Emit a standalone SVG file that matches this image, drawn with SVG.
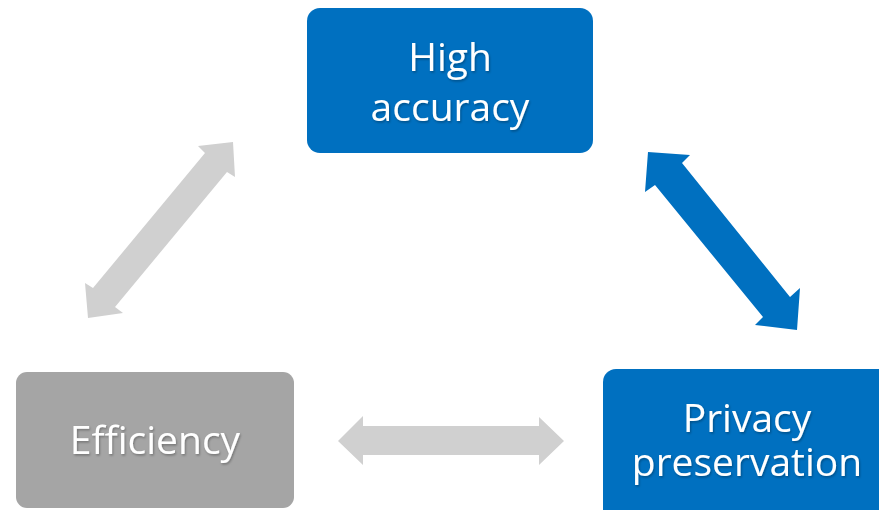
<svg xmlns="http://www.w3.org/2000/svg" width="879" height="510" viewBox="0 0 879 510">
<style>
.blue{fill:#0070C0}
.grey{fill:#A5A5A5}
.lbl{fill:#FFFFFF;font-family:"Segoe UI","Open Sans","Noto Sans",sans-serif;font-size:39px;text-anchor:middle;filter:url(#sh)}
.garrow{fill:#D0D0D0}
.barrow{fill:#0070C0}
</style>
<defs>
<filter id="sh" x="-10%" y="-20%" width="120%" height="140%">
<feDropShadow dx="1" dy="1.5" stdDeviation="1" flood-color="#000" flood-opacity="0.3"/>
</filter>
</defs>
<g id="connectors">
<polygon class="barrow" points="648,152 690,155 682,163 790,297 800,288 797,330 755,325 763,317 655,185 645,192"/>
<polygon class="garrow" points="233,142 235,177 227,172 115,307 123,313 88,318 85,283 93,288 205,153 198,146"/>
<polygon class="garrow" points="338,441 363,416 363,426 539,426 539,417 564,441 539,465 539,455 363,455 363,465"/>
</g>
<g id="high-accuracy">
<rect class="blue" x="307" y="8" width="286" height="145" rx="13"/>
<text class="lbl" x="450" y="71">High</text>
<text class="lbl" x="450" y="121">accuracy</text>
</g>
<g id="privacy-preservation">
<rect class="blue" x="603" y="369" width="300" height="160" rx="13"/>
<text class="lbl" x="747" y="432">Privacy</text>
<text class="lbl" x="747" y="476">preservation</text>
</g>
<g id="efficiency">
<rect class="grey" x="16" y="372" width="278" height="136" rx="11"/>
<text class="lbl" x="155" y="454">Efficiency</text>
</g>
</svg>
